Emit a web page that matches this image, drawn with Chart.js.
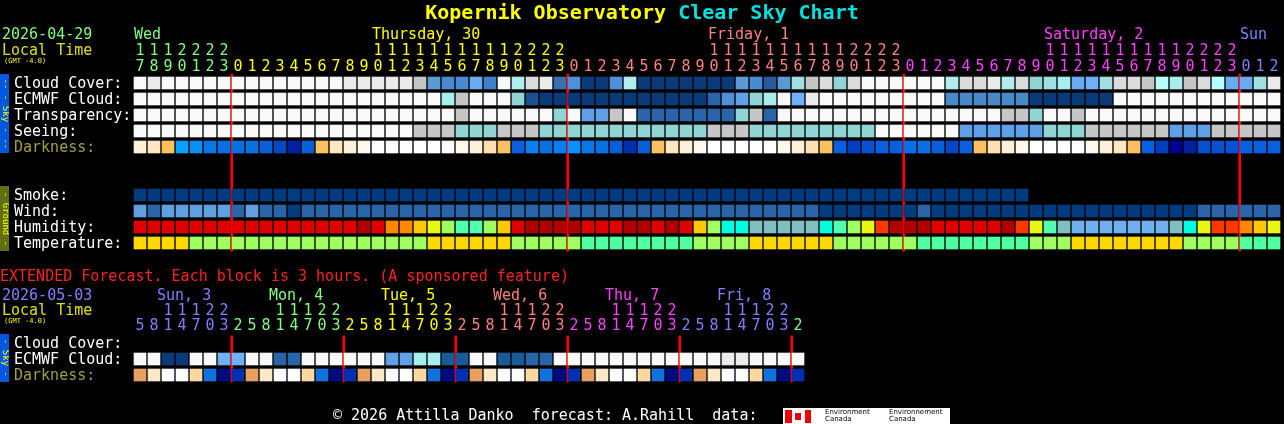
<!DOCTYPE html>
<html><head><meta charset="utf-8">
<script src="https://cdn.jsdelivr.net/npm/chart.js@4"></script>
<style>
html,body{margin:0;padding:0;background:#000;overflow:hidden}
#wrap{position:relative;width:1284px;height:424px;font-family:"DejaVu Sans Mono",monospace}
canvas{position:absolute;left:0;top:0}
.t{position:absolute;white-space:pre;font-size:15px;line-height:16px}
.d{position:absolute;width:14px;text-align:center;font-size:15px;line-height:16px}
</style></head><body>
<div id="wrap"><canvas id="c" width="1284" height="424"></canvas></div>
<script>
// ---- palette aliases ----
const W='#f9f9f9',E='#ebebeb',D='#dcdcdc',G='#c6c6c6',C1='#b0eeee',C2='#a0e0e0',C3='#90d4d4',C4='#b8ffff',CY='#a8eeee',
B1='#6aaaf0',B2='#5b9bd5',B3='#4a8ad0',B4='#2a64a8',B5='#1a5090',B6='#0a3a78',B7='#60a0e8',B8='#70b0f8',B9='#4a88c8',
SM='#003c7e',WL='#60a0e0',
R1='#e00000',R2='#b00000',OR='#ff8800',RO='#ff3800',YO='#ffc800',YG='#e8f810',LG='#a0ff60',MG='#50ffb0',CA='#00ffe0',GB='#80c0c0',LB='#70b0f0',
TY='#ffd800',TL='#a0ff60',TM='#50ffa0',
P1='#fff0d8',P2='#ffe8c0',P3='#ffe0b0',P4='#fff8ec',TW='#ffc060',WH='#ffffff';

// ---- hourly columns: Wed 17h .. Sun 2h ----
const hours=[17,18,19,20,21,22,23,0,1,2,3,4,5,6,7,8,9,10,11,12,13,14,15,16,17,18,19,20,21,22,23,0,1,2,3,4,5,6,7,8,9,10,11,12,13,14,15,16,17,18,19,20,21,22,23,0,1,2,3,4,5,6,7,8,9,10,11,12,13,14,15,16,17,18,19,20,21,22,23,0,1,2];
const dayOfCol=[0,0,0,0,0,0,0,1,1,1,1,1,1,1,1,1,1,1,1,1,1,1,1,1,1,1,1,1,1,1,1,2,2,2,2,2,2,2,2,2,2,2,2,2,2,2,2,2,2,2,2,2,2,2,2,3,3,3,3,3,3,3,3,3,3,3,3,3,3,3,3,3,3,3,3,3,3,3,3,4,4,4];
const dayNames=['Wed','Thursday, 30','Friday, 1','Saturday, 2','Sun'];
const dayLabelCol=[0,17,41,65,79];
const dayColors=['#80ff80','#ffff00','#ff8080','#ff40ff','#8080ff'];
const midnights=[7,31,55,79];

const cloudCover=[W,E,W,W,W,W,W,W,W,W,W,W,W,W,W,E,E,E,E,E,G,B2,B3,B3,B1,'#4080c8',W,C1,D,E,'#3a70b0','#5090d8',B6,B6,'#5090d8',C1,B6,B6,B6,B6,B6,B6,B6,B2,B3,'#2a5a9a',B2,C2,G,D,C3,D,W,W,W,W,W,W,C1,D,D,E,C1,D,C3,C2,CY,B1,B8,C2,D,D,G,C4,CY,G,D,C4,B1,B1,C2,E];
const ecmwfCloud=[W,W,W,W,W,W,W,W,W,W,W,W,W,W,W,W,W,W,W,W,W,W,CY,G,W,W,W,C3,B5,B6,B6,B6,B6,B6,B6,B6,B6,B6,B6,B6,B6,B4,'#5090d8',B7,C3,CY,W,B8,E,W,W,W,W,W,W,W,W,W,B9,B9,B9,B9,B9,B9,B6,B6,B6,B6,B6,B6,W,W,W,W,W,W,W,W,W,W,W,W];
const transparency=[W,W,W,W,W,W,W,W,W,W,W,W,W,W,W,W,W,W,W,W,W,W,W,G,W,W,W,W,W,W,C3,W,B7,B7,G,W,B4,B4,B4,B4,B4,B4,B4,C3,G,B4,W,W,W,W,W,W,W,W,W,W,W,W,W,W,W,W,G,G,C3,W,W,G,W,W,W,W,W,W,W,W,W,W,W,W,W,W];
const seeing=[W,W,W,W,W,W,W,W,W,W,W,W,W,W,W,W,W,W,W,W,G,G,G,C3,C3,C3,G,G,G,C3,C3,C3,C3,C3,C3,C3,C3,C3,C3,C3,C3,G,G,G,C3,C3,C3,C3,C3,C3,C3,C3,C3,W,W,W,W,W,W,B7,B7,B7,B7,B7,B7,C3,C3,C3,G,G,G,G,G,G,B7,B7,B7,G,G,G,G,G];
const darkness=[P1,P2,TW,'#0aa0ff','#0a90f0','#0878e8','#0870e0','#0870e0','#0870e0','#0860d8','#0848c0','#0020a0','#0860d8',TW,P2,P1,P4,WH,WH,WH,WH,WH,WH,P4,P1,P3,TW,'#0860e0','#0a80f0','#0870e0','#0a80f0','#0a90ff','#0878e8','#0870e0','#0860d8','#0030b0','#0860d8',TW,P2,P1,P4,WH,WH,WH,WH,WH,P4,P1,P3,TW,'#0860e0','#0040c0','#0850d0','#0860e0','#0860e0','#0870e8','#0870e8','#0860d8','#0848c8','#0860e0',TW,P3,P1,P4,WH,WH,WH,WH,P4,P1,P2,TW,'#0860e0','#0040c0','#000090','#0020a0','#0050d0','#0850d0','#0850d8','#0860e0','#0860e0','#0860e0'];
const smoke=[SM,SM,SM,SM,SM,SM,SM,SM,SM,SM,SM,SM,SM,SM,SM,SM,SM,SM,SM,SM,SM,SM,SM,SM,SM,SM,SM,SM,SM,SM,SM,SM,SM,SM,SM,SM,SM,SM,SM,SM,SM,SM,SM,SM,SM,SM,SM,SM,SM,SM,SM,SM,SM,SM,SM,SM,SM,SM,SM,SM,SM,SM,SM,SM,null,null,null,null,null,null,null,null,null,null,null,null,null,null,null,null,null,null];
const wind=[WL,B4,WL,WL,WL,WL,WL,B4,WL,B4,B4,SM,B4,B4,B4,B4,B4,B4,B4,B4,B4,B4,B4,B4,B4,B4,B4,B4,B4,B4,B4,B4,B4,B4,B4,B4,B4,B4,B4,B4,B4,B4,B4,B4,B4,B4,B4,B4,B4,SM,SM,SM,SM,SM,SM,SM,B4,SM,SM,SM,SM,SM,SM,SM,SM,SM,SM,SM,SM,SM,SM,SM,SM,SM,SM,SM,B4,B4,B4,B4,B4,B4];
const humidity=[R1,R1,R1,R1,R1,R1,R1,R1,R1,R1,R1,R1,R1,R1,R1,R1,R2,R1,OR,OR,YO,YG,LG,MG,MG,LG,YO,R1,R2,R2,R2,R2,R1,R1,R1,R2,R2,R1,R2,R1,YO,LG,CA,CA,GB,GB,GB,GB,GB,CA,MG,LG,YG,RO,R2,R2,R2,R1,R1,R1,R1,R1,R2,RO,YG,MG,GB,LB,LB,LB,LB,LB,LB,LB,GB,CA,YG,RO,RO,OR,YO,YG];
const temperature=[TY,TY,TY,TY,TL,TL,TL,TL,TL,TL,TL,TL,TL,TL,TL,TL,TL,TL,TL,TL,TL,TY,TY,TY,TY,TY,TY,TL,TL,TL,TL,TL,TM,TM,TM,TM,TM,TM,TM,TM,TL,TL,TL,TL,TY,TY,TY,TY,TY,TY,TL,TL,TL,TL,TL,TL,TM,TM,TM,TM,TM,TM,TM,TM,TL,TL,TL,TY,TY,TY,TY,TY,TY,TY,TY,TL,TL,TL,TL,TM,TM,TM];

// ---- extended forecast: 3-hour blocks ----
const extHours=[5,8,1,4,7,0,3,2,5,8,1,4,7,0,3,2,5,8,1,4,7,0,3,2,5,8,1,4,7,0,3,2,5,8,1,4,7,0,3,2,5,8,1,4,7,0,3,2];
const extTens=['','',1,1,1,2,2,''];
const extDays=['Sun, 3','Mon, 4','Tue, 5','Wed, 6','Thu, 7','Fri, 8','Sat, 9'];
const extDayColors=['#8080ff','#80ff80','#ffff00','#ff8080','#ff40ff','#8080ff','#80ff80'];
const extMidnights=[7,15,23,31,39,47];
const extEcmwf=[W,W,B6,B6,W,W,B8,B8,W,W,B4,B4,W,W,W,W,W,W,B7,B7,CY,CY,'#1a5a98','#1a5a98',W,W,'#1a5a98','#1a5a98',B4,B4,W,W,W,W,W,W,W,W,W,W,W,W,E,E,W,W,W,W];
const extDarkness=['#e8a060','#ffe8c8',WH,WH,'#ffd8a0','#1070e0','#000a80','#0030b0','#e8a060','#ffe8c8',WH,WH,'#ffd8a0','#1070e0','#000a80','#0030b0','#e8a060','#ffe8c8',WH,WH,'#ffd8a0','#1070e0','#000a80','#0030b0','#e8a060','#ffe8c8',WH,WH,'#ffd8a0','#1070e0','#000a80','#0030b0','#e8a060','#ffe8c8',WH,WH,'#ffd8a0','#1070e0','#000a80','#0030b0','#e8a060','#ffe8c8',WH,WH,'#ffd8a0','#1070e0','#000a80','#0030b0'];

// ---- row layout ----
const rows=[
 {name:'Cloud Cover:',data:cloudCover,top:77,col:'#fff'},
 {name:'ECMWF Cloud:',data:ecmwfCloud,top:93,col:'#fff'},
 {name:'Transparency:',data:transparency,top:109,col:'#fff'},
 {name:'Seeing:',data:seeing,top:125,col:'#fff'},
 {name:'Darkness:',data:darkness,top:141,col:'#a0a040'},
 {name:'Smoke:',data:smoke,top:189,col:'#fff'},
 {name:'Wind:',data:wind,top:205,col:'#fff'},
 {name:'Humidity:',data:humidity,top:221,col:'#fff'},
 {name:'Temperature:',data:temperature,top:237,col:'#fff'},
 {name:'Cloud Cover:',data:[],top:337,col:'#fff'},
 {name:'ECMWF Cloud:',data:extEcmwf,top:353,col:'#fff'},
 {name:'Darkness:',data:extDarkness,top:369,col:'#a0a040'}
];

const datasets=rows.map(r=>{
  const pts=[],cols=[];
  r.data.forEach((c,i)=>{ if(c){pts.push({x:i,y:[r.top,r.top+12]});cols.push(c);} });
  return {data:pts,backgroundColor:cols,barThickness:12,grouped:false,borderWidth:0};
});
datasets.push({data:midnights.map(m=>({x:m-0.45,y:[74,251]})),backgroundColor:'#ff0000',barThickness:2,grouped:false});
datasets.push({data:extMidnights.map(m=>({x:m-0.45,y:[336,382]})),backgroundColor:'#ff0000',barThickness:2,grouped:false});

const chart=new Chart(document.getElementById('c'),{
  type:'bar',
  data:{datasets},
  options:{responsive:false,animation:false,devicePixelRatio:1,
    layout:{padding:0},
    plugins:{legend:{display:false},tooltip:{enabled:false}},
    scales:{
      x:{type:'linear',offset:false,bounds:'data',min:-10,max:(1284-140)/14,display:false,grid:{offset:false}},
      y:{type:'linear',min:0,max:424,reverse:true,display:false}
    }}
});

// ---- text ----
const wrap=document.getElementById('wrap');
function txt(s,x,y,color,extra){const d=document.createElement('div');d.className='t';d.textContent=s;d.style.left=x+'px';d.style.top=(y-8)+'px';d.style.color=color;if(extra)Object.assign(d.style,extra);wrap.appendChild(d);return d;}
function dig(s,c,y,color){const d=document.createElement('div');d.className='d';d.textContent=s;d.style.left=(chart.scales.x.getPixelForValue(c)-7)+'px';d.style.top=(y-8)+'px';d.style.color=color;wrap.appendChild(d);}
const colX=c=>chart.scales.x.getPixelForValue(c)-6;

const title=document.createElement('div');title.className='t';
title.style.cssText+='left:0;width:1284px;text-align:center;top:1px;font-size:20px;line-height:22px;font-weight:bold';
title.innerHTML='<span style="color:#ffff00">Kopernik Observatory</span> <span style="color:#00e0e0">Clear Sky Chart</span>';
wrap.appendChild(title);

txt('2026-04-29',2,34,'#80ff80');
txt('Local Time',2,50,'#e0e000');
txt('(GMT -4.0)',4,60,'#ffff00',{fontSize:'7px',lineHeight:'8px',top:'57px'});
dayNames.forEach((n,k)=>txt(n,colX(dayLabelCol[k]),34,dayColors[k]));
hours.forEach((h,i)=>{const col=dayColors[dayOfCol[i]];dig(String(h%10),i,66,col);if(h>=10)dig(String(Math.floor(h/10)),i,50,col);});
rows.forEach(r=>txt(r.name,14,r.top+6,r.col));

txt('EXTENDED Forecast. Each block is 3 hours. (A sponsored feature)',0,276,'#ff2020');
txt('2026-05-03',2,295,'#8080ff');
txt('Local Time',2,310,'#e0e000');
txt('(GMT -4.0)',4,320,'#ffff00',{fontSize:'7px',lineHeight:'8px',top:'317px'});
for(let k=0;k<6;k++) txt(extDays[k],colX(8*k+1)+9,295,extDayColors[k]);
extHours.forEach((h,i)=>{const day=Math.floor((i+1)/8);const col=extDayColors[day];dig(String(h),i,325,col);const t=extTens[i%8];if(t!=='')dig(String(t),i,310,col);});

// side bars
function side(y0,y1,bg,label){const d=document.createElement('div');d.style.cssText=`position:absolute;left:0;top:${y0}px;width:9px;height:${y1-y0}px;background:${bg};overflow:hidden`;
 const s=document.createElement('div');s.textContent=label;s.style.cssText=`position:absolute;left:50%;top:50%;transform:translate(-50%,-50%) rotate(90deg);color:#ffff00;font-size:9px;line-height:9px;white-space:nowrap;font-family:"DejaVu Sans Mono"`;d.appendChild(s);wrap.appendChild(d);}
side(74,153,'#0058e0','-- - Sky - --');
side(186,251,'#607010','- Ground -');
side(334,382,'#0058e0','- Sky -');

txt('© 2026 Attilla Danko  forecast: A.Rahill  data:',333,415,'#ffffff');
const logo=document.createElement('div');
logo.style.cssText='position:absolute;left:783px;top:408px;width:167px;height:16px;background:#fff;font-family:"DejaVu Sans";font-size:7px;line-height:7px;color:#000';
logo.innerHTML='<div style="position:absolute;left:2px;top:2px;width:26px;height:13px;background:linear-gradient(90deg,#e00 0 25%,#fff 25% 75%,#e00 75%)"><div style="position:absolute;left:10px;top:3px;width:6px;height:7px;background:#e00"></div></div><div style="position:absolute;left:42px;top:1px">Environment<br>Canada</div><div style="position:absolute;left:106px;top:1px">Environnement<br>Canada</div>';
wrap.appendChild(logo);
</script></body></html>
